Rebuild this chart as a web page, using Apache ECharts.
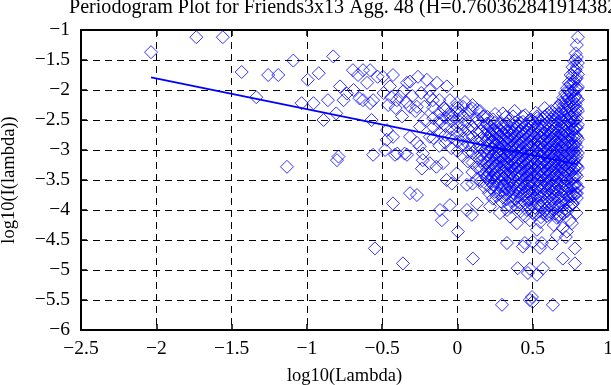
<!DOCTYPE html>
<html><head><meta charset="utf-8">
<script src="https://cdn.jsdelivr.net/npm/echarts@6/dist/echarts.min.js"></script>
<style>html,body{margin:0;padding:0;background:#fff}#c{width:611px;height:385px}</style>
</head><body><div id="c"></div>
<script>
// Lowest frequencies (k = 1..16)
const lowFreqPoints = [
  [-2.035,-1.37],[-1.734,-1.12],[-1.558,-1.12],[-1.433,-1.70],[-1.336,-2.12],[-1.257,-1.75],
  [-1.190,-1.75],[-1.132,-3.28],[-1.090,-1.51],[-1.035,-2.22],[-0.994,-1.83],[-0.956,-2.22],
  [-0.921,-1.72],[-0.889,-2.50],[-0.860,-2.17],[-0.825,-1.44]
];
// Scattered points between log10(lambda) = -0.8 and 0.2
const midFreqPoints = [
  [-0.805,-2.39],[-0.780,-1.94],[-0.790,-3.11],[-0.800,-3.17],[-0.756,-2.17],[-0.734,-2.06],[-0.694,-1.67],
  [-0.690,-2.00],[-0.660,-1.75],[-0.650,-2.14],[-0.627,-1.67],[-0.627,-2.17],[-0.600,-1.88],
  [-0.580,-1.67],[-0.580,-2.22],[-0.560,-2.17],[-0.570,-2.50],[-0.560,-3.08],[-0.548,-4.64],
  [-0.530,-1.78],[-0.495,-1.78],[-0.490,-2.05],[-0.468,-2.67],[-0.470,-2.83],[-0.480,-3.00],
  [-0.460,-2.25],[-0.448,-1.94],[-0.440,-2.12],[-0.428,-1.75],[-0.428,-2.78],[-0.428,-3.89],
  [-0.415,-3.08],[-0.410,-2.30],[-0.402,-2.17],[-0.400,-3.06],[-0.382,-2.11],[-0.368,-2.44],
  [-0.362,-4.89],[-0.360,-2.02],[-0.350,-3.06],[-0.340,-2.20],[-0.335,-1.88],[-0.335,-3.08],
  [-0.315,-1.86],[-0.315,-2.28],[-0.315,-2.78],[-0.315,-3.72],[-0.300,-2.10],[-0.280,-2.35],
  [-0.269,-2.28],[-0.269,-2.88],[-0.269,-3.75],[-0.262,-1.78],[-0.250,-2.94],[-0.249,-2.61],
  [-0.240,-2.05],[-0.236,-3.31],[-0.230,-3.17],[-0.229,-3.06],[-0.220,-2.28],[-0.216,-2.50],
  [-0.203,-1.83],[-0.183,-2.00],[-0.183,-2.11],[-0.183,-2.78],[-0.183,-3.22],[-0.163,-2.17],
  [-0.140,-3.28],[-0.136,-1.88],[-0.120,-2.17],[-0.116,-2.50],[-0.116,-4.00],[-0.103,-4.17],
  [-0.096,-3.22],[-0.090,-2.30],[-0.072,-3.50],[-0.070,-1.94],[-0.060,-2.40],[-0.050,-2.17],
  [-0.050,-3.92],[-0.037,-3.56],[-0.030,-2.44],[-0.005,-3.39],[-0.003,-2.22],[0.000,-2.30],
  [0.003,-4.36],[0.017,-2.39],[0.037,-2.28],[0.050,-2.20],[0.063,-3.58],[0.063,-4.00],
  [0.083,-2.33],[0.096,-4.08],[0.100,-2.25],[0.100,-3.56],[0.103,-4.81],[0.130,-2.33],
  [0.130,-3.89],[0.150,-2.35],[0.120,-2.55],[0.170,-2.44],[0.190,-3.44],[0.196,-2.56],
  [0.200,-2.45],[0.216,-3.94]
];
// Scattered points at the high-frequency end
const highFreqPoints = [
  [0.250,-2.40],[0.302,-2.39],[0.320,-2.45],[0.369,-2.44],[0.380,-2.35],[0.435,-2.44],
  [0.450,-2.42],[0.520,-2.38],[0.528,-2.44],[0.580,-2.30],
  [0.282,-4.05],[0.329,-4.00],[0.349,-4.11],[0.395,-4.22],[0.450,-4.10],[0.481,-4.17],
  [0.528,-4.33],[0.550,-4.20],[0.594,-4.05],[0.640,-4.25],[0.660,-4.42],[0.680,-4.11],
  [0.700,-4.30],[0.720,-4.45],[0.747,-4.17],[0.760,-4.22],[0.767,-3.89],[0.790,-4.05],
  [0.794,-3.72],[0.727,-4.36],
  [0.329,-4.55],[0.435,-4.61],[0.448,-4.55],[0.500,-4.53],[0.548,-4.63],[0.561,-4.55],
  [0.627,-4.56],[0.700,-4.81],[0.780,-4.89],[0.780,-4.64],
  [0.400,-4.97],[0.468,-5.05],[0.481,-4.98],[0.528,-5.08],[0.568,-4.97],
  [0.296,-5.58],[0.481,-5.50],[0.495,-5.45],[0.500,-5.53],[0.634,-5.58]
];
// Dense cluster: each row = [log10(lambda), log10(I) values ...]
const clusterColumns = [
  [-0.16,-2.29,-2.47,-2.62,-2.80],
  [-0.12,-2.38,-2.55,-2.71,-2.93],
  [-0.08,-2.33,-2.46,-2.60,-2.75,-2.88],
  [-0.04,-2.41,-2.52,-2.66,-2.79,-2.97],
  [0.000,-2.36,-2.49,-2.61,-2.72,-2.86,-3.02],
  [0.035,-2.44,-2.57,-2.68,-2.81,-2.92,-3.10],
  [0.070,-2.39,-2.53,-2.65,-2.76,-2.90,-3.03,-3.19],
  [0.100,-2.31,-2.62,-2.78,-2.93,-3.05,-3.21,-3.37],
  [0.130,-2.48,-2.71,-2.86,-2.97,-3.12,-3.29,-3.48],
  [0.155,-2.55,-2.69,-2.81,-2.95,-3.08,-3.18,-3.33,-3.52],
  [0.180,-2.44,-2.62,-2.75,-2.88,-3.01,-3.14,-3.26,-3.41,-3.62],
  [0.195,-2.66,-2.84,-2.97,-3.09,-3.22,-3.35,-3.47,-3.58],
  [0.210,-2.58,-2.70,-2.79,-2.92,-3.03,-3.17,-3.28,-3.39,-3.51,-3.72],
  [0.222,-2.63,-2.74,-2.87,-2.98,-3.12,-3.24,-3.34,-3.46,-3.63],
  [0.235,-2.49,-2.66,-2.77,-2.86,-2.98,-3.09,-3.22,-3.31,-3.45,-3.58,-3.81],
  [0.248,-2.55,-2.70,-2.81,-2.94,-3.06,-3.18,-3.28,-3.41,-3.53,-3.70],
  [0.260,-2.61,-2.72,-2.83,-2.91,-3.04,-3.13,-3.25,-3.36,-3.47,-3.63,-3.77],
  [0.275,-2.66,-2.78,-2.87,-3.01,-3.09,-3.22,-3.33,-3.44,-3.58,-3.73],
  [0.290,-2.55,-2.68,-2.78,-2.89,-2.99,-3.11,-3.19,-3.30,-3.42,-3.54,-3.68,-3.86],
  [0.302,-2.59,-2.72,-2.82,-2.93,-3.04,-3.16,-3.25,-3.35,-3.47,-3.60,-3.79],
  [0.315,-2.63,-2.74,-2.84,-2.95,-3.06,-3.15,-3.27,-3.38,-3.49,-3.60,-3.74],
  [0.328,-2.57,-2.68,-2.79,-2.88,-2.99,-3.10,-3.21,-3.31,-3.42,-3.53,-3.65,-3.82],
  [0.340,-2.52,-2.69,-2.80,-2.90,-3.01,-3.12,-3.23,-3.33,-3.44,-3.57,-3.70,-3.91],
  [0.355,-2.65,-2.76,-2.86,-2.97,-3.08,-3.18,-3.29,-3.39,-3.51,-3.64,-3.78,-3.95],
  [0.370,-2.58,-2.71,-2.82,-2.93,-3.03,-3.14,-3.26,-3.35,-3.47,-3.59,-3.72,-3.85],
  [0.383,-2.54,-2.66,-2.78,-2.89,-2.99,-3.11,-3.21,-3.31,-3.43,-3.55,-3.67,-3.81],
  [0.395,-2.62,-2.75,-2.86,-2.97,-3.08,-3.18,-3.29,-3.40,-3.52,-3.63,-3.77,-3.96],
  [0.408,-2.60,-2.71,-2.83,-2.92,-3.03,-3.14,-3.25,-3.36,-3.47,-3.58,-3.70,-3.88],
  [0.420,-2.55,-2.68,-2.79,-2.88,-3.00,-3.10,-3.21,-3.32,-3.43,-3.55,-3.66,-3.80,-4.02],
  [0.435,-2.53,-2.65,-2.76,-2.87,-2.97,-3.08,-3.19,-3.30,-3.41,-3.52,-3.64,-3.76,-3.92],
  [0.450,-2.60,-2.73,-2.84,-2.94,-3.05,-3.16,-3.27,-3.37,-3.48,-3.61,-3.73,-3.88],
  [0.462,-2.57,-2.70,-2.81,-2.91,-3.02,-3.13,-3.24,-3.35,-3.46,-3.57,-3.69,-3.83,-4.00],
  [0.475,-2.51,-2.66,-2.77,-2.90,-3.00,-3.11,-3.22,-3.34,-3.45,-3.56,-3.69,-3.82,-3.97],
  [0.488,-2.49,-2.63,-2.75,-2.86,-2.96,-3.07,-3.18,-3.29,-3.40,-3.52,-3.64,-3.77,-3.91],
  [0.500,-2.58,-2.70,-2.81,-2.92,-3.03,-3.13,-3.24,-3.36,-3.46,-3.58,-3.70,-3.84,-4.05],
  [0.515,-2.54,-2.67,-2.78,-2.88,-2.99,-3.10,-3.21,-3.31,-3.42,-3.54,-3.66,-3.80,-3.96,-4.08],
  [0.530,-2.47,-2.62,-2.74,-2.85,-2.96,-3.07,-3.18,-3.29,-3.40,-3.51,-3.63,-3.76,-3.90],
  [0.542,-2.50,-2.64,-2.76,-2.87,-2.97,-3.08,-3.19,-3.30,-3.41,-3.52,-3.64,-3.77,-3.89,-4.03],
  [0.555,-2.53,-2.67,-2.78,-2.89,-3.00,-3.10,-3.21,-3.33,-3.44,-3.55,-3.67,-3.79,-3.95,-4.12],
  [0.568,-2.48,-2.62,-2.73,-2.84,-2.95,-3.06,-3.17,-3.28,-3.39,-3.50,-3.62,-3.74,-3.88,-4.05],
  [0.580,-2.44,-2.58,-2.71,-2.82,-2.93,-3.04,-3.15,-3.26,-3.37,-3.48,-3.60,-3.72,-3.86,-4.01],
  [0.595,-2.41,-2.55,-2.68,-2.79,-2.90,-3.01,-3.12,-3.23,-3.34,-3.45,-3.57,-3.69,-3.82,-3.97,-4.10],
  [0.610,-2.38,-2.52,-2.65,-2.77,-2.88,-2.99,-3.10,-3.21,-3.32,-3.43,-3.55,-3.66,-3.79,-3.93,-4.08],
  [0.623,-2.35,-2.49,-2.61,-2.73,-2.84,-2.95,-3.06,-3.17,-3.28,-3.39,-3.51,-3.63,-3.75,-3.89,-4.04],
  [0.635,-2.45,-2.57,-2.69,-2.80,-2.91,-3.02,-3.13,-3.24,-3.35,-3.46,-3.58,-3.70,-3.83,-3.98],
  [0.648,-2.40,-2.52,-2.64,-2.75,-2.86,-2.97,-3.08,-3.19,-3.30,-3.41,-3.52,-3.64,-3.76,-3.90,-4.06],
  [0.660,-2.30,-2.44,-2.56,-2.68,-2.79,-2.90,-3.01,-3.12,-3.23,-3.34,-3.45,-3.57,-3.69,-3.81,-3.96,-4.13],
  [0.675,-2.26,-2.40,-2.52,-2.64,-2.76,-2.87,-2.98,-3.09,-3.20,-3.31,-3.42,-3.54,-3.66,-3.78,-3.92,-4.08],
  [0.690,-2.21,-2.35,-2.48,-2.61,-2.73,-2.84,-2.95,-3.06,-3.17,-3.28,-3.39,-3.50,-3.62,-3.74,-3.87,-4.04],
  [0.702,-2.13,-2.27,-2.40,-2.52,-2.64,-2.75,-2.86,-2.97,-3.08,-3.19,-3.30,-3.41,-3.52,-3.64,-3.77,-3.92,-4.06],
  [0.715,-2.05,-2.19,-2.32,-2.45,-2.57,-2.69,-2.80,-2.91,-3.02,-3.13,-3.24,-3.35,-3.46,-3.58,-3.70,-3.84,-3.99],
  [0.728,-1.97,-2.11,-2.24,-2.37,-2.49,-2.61,-2.72,-2.83,-2.94,-3.05,-3.16,-3.27,-3.38,-3.50,-3.62,-3.74,-3.88,-4.02],
  [0.740,-1.88,-2.02,-2.15,-2.28,-2.40,-2.52,-2.64,-2.75,-2.86,-2.97,-3.08,-3.19,-3.30,-3.41,-3.53,-3.65,-3.78,-3.94],
  [0.752,-1.75,-1.90,-2.05,-2.19,-2.32,-2.45,-2.57,-2.69,-2.81,-2.93,-3.04,-3.15,-3.26,-3.38,-3.50,-3.63,-3.77,-3.92],
  [0.765,-1.62,-1.77,-1.91,-2.04,-2.17,-2.29,-2.41,-2.53,-2.65,-2.77,-2.89,-3.00,-3.11,-3.22,-3.34,-3.46,-3.59,-3.73,-3.90],
  [0.775,-1.52,-1.70,-1.86,-2.00,-2.14,-2.27,-2.40,-2.53,-2.66,-2.79,-2.92,-3.05,-3.18,-3.31,-3.45,-3.60,-3.76],
  [0.785,-1.39,-1.50,-1.67,-1.82,-1.96,-2.10,-2.24,-2.37,-2.50,-2.63,-2.76,-2.88,-3.01,-3.14,-3.27,-3.41,-3.56,-3.72],
  [0.793,-1.25,-1.45,-1.62,-1.80,-1.98,-2.15,-2.31,-2.47,-2.63,-2.79,-2.95,-3.11,-3.27,-3.44,-3.62,-3.80],
  [0.800,-1.12,-1.55,-1.74,-1.95,-2.16,-2.35,-2.58,-2.82,-3.05,-3.30,-3.62]
];
// Least-squares fit line end points
const fitLine = [[-2.035,-1.79],[0.798,-3.24]];

const titleText = 'Periodogram Plot for Friends3x13 Agg. 48 (H=0.760362841914382)';
const xName = 'log10(Lambda)';
const yName = 'log10(I(lambda))';

const points = [
  ...lowFreqPoints, ...midFreqPoints, ...highFreqPoints,
  ...clusterColumns.flatMap(c => c.slice(1).map(y => [c[0], y]))
];

const FONT = 'Liberation Serif';
const fmt = v => (v < 0 ? '\u2212' + Math.abs(v) : String(v));
const black = '#000';
const baseAxis = (extra) => Object.assign({
  type: 'value',
  axisLine: { show: true, onZero: false, lineStyle: { color: black, width: 2 } },
  axisTick: { show: true, inside: true, length: 6, lineStyle: { color: black, width: 1.5 } },
  splitLine: { show: false },
  axisLabel: { show: false }
}, extra);

const chart = echarts.init(document.getElementById('c'), null, { renderer: 'canvas' });
chart.setOption({
  animation: false,
  backgroundColor: '#fff',
  title: {
    text: titleText, left: 69, top: -2, padding: 0,
    textStyle: { fontFamily: FONT, fontSize: 20.1, fontWeight: 'normal', color: black }
  },
  grid: { left: 81, right: 3, top: 30, bottom: 55, containLabel: false, outerBoundsMode: 'none' },
  xAxis: [
    baseAxis({
      min: -2.5, max: 1, interval: 0.5, position: 'bottom',
      axisLabel: { show: true, color: black, fontFamily: FONT, fontSize: 19.5, margin: 9, formatter: fmt },
      splitLine: { show: true, lineStyle: { color: black, width: 1, type: [7, 5] } },
      name: xName, nameLocation: 'middle', nameGap: 37,
      nameTextStyle: { fontFamily: FONT, fontSize: 18.5, color: black }
    }),
    baseAxis({ min: -2.5, max: 1, interval: 0.5, position: 'top' })
  ],
  yAxis: [
    baseAxis({
      min: -6, max: -1, interval: 0.5, position: 'left',
      axisLabel: { show: true, color: black, fontFamily: FONT, fontSize: 19.5, margin: 11, formatter: fmt },
      splitLine: { show: true, lineStyle: { color: black, width: 1, type: [7, 5] } },
      name: yName, nameLocation: 'middle', nameGap: 62,
      nameTextStyle: { fontFamily: FONT, fontSize: 18.5, color: black }
    }),
    baseAxis({ min: -6, max: -1, interval: 0.5, position: 'right' })
  ],
  series: [
    {
      type: 'scatter', xAxisIndex: 0, yAxisIndex: 0, data: points,
      symbol: 'diamond', symbolSize: 13, silent: true, z: 2,
      itemStyle: { color: 'rgba(0,0,0,0)', borderColor: '#0000ff', borderWidth: 1 },
      emphasis: { disabled: true }
    },
    {
      type: 'line', xAxisIndex: 0, yAxisIndex: 0, data: fitLine,
      showSymbol: false, symbol: 'none', silent: true, z: 3,
      lineStyle: { color: '#0000ff', width: 1.8 }
    }
  ]
});
</script>
</body></html>
